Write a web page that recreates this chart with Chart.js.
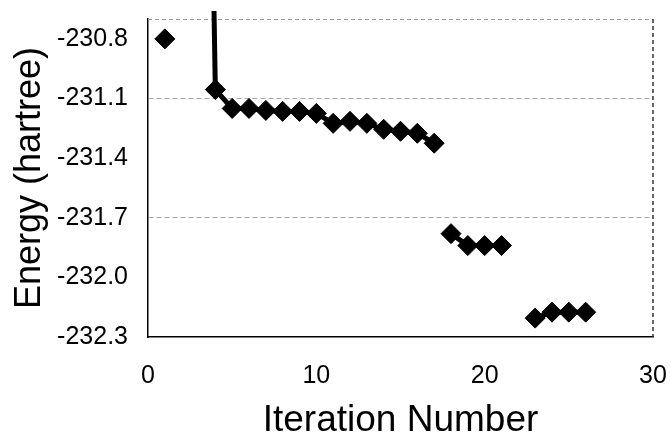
<!DOCTYPE html>
<html>
<head>
<meta charset="utf-8">
<script src="https://cdn.jsdelivr.net/npm/chart.js@4"></script>
<style>
  html, body { margin: 0; padding: 0; background: #fff; }
  #wrap { width: 671px; height: 443px; }
</style>
</head>
<body>
<div id="wrap"><canvas id="myChart" width="671" height="443"></canvas></div>
<script>
// iteration numbers and energies (hartree), one array pair per run segment
const iterFirst = [1];
const energyFirst = [-230.8];

const iterMain = [3, 4, 5, 6, 7, 8, 9, 10, 11, 12, 13, 14, 15, 16, 17];
const energyMain = [-226.0, -231.055, -231.15, -231.15, -231.16, -231.165, -231.165, -231.175,
                    -231.225, -231.215, -231.225, -231.255, -231.265, -231.275, -231.325];

const iterSecond = [18, 19, 20, 21];
const energySecond = [-231.78, -231.84, -231.84, -231.84];

const iterThird = [23, 24, 25, 26];
const energyThird = [-232.205, -232.175, -232.175, -232.175];

const yTicks = [-232.3, -232.0, -231.7, -231.4, -231.1, -230.8];
const xTicks = [0, 10, 20, 30];
const gridValues = [-231.1, -231.7];

function toPoints(xs, ys) {
    return xs.map((x, i) => ({x: x, y: ys[i]}));
}

function series(xs, ys) {
    return {
        data: toPoints(xs, ys),
        borderColor: '#000',
        backgroundColor: '#000',
        borderWidth: 5,
        pointStyle: 'rectRot',
        pointRadius: 10,
        pointBorderWidth: 1,
        pointBackgroundColor: '#000',
        tension: 0,
        clip: {left: 0, top: 8, right: 0, bottom: 0}
    };
}

const frame = {
    id: 'frame',
    beforeDatasetsDraw(chart) {
        const a = chart.chartArea;
        const ctx = chart.ctx;
        ctx.save();
        ctx.lineWidth = 1;
        ctx.setLineDash([4, 3]);
        ctx.strokeStyle = '#999';
        ctx.beginPath();
        ctx.moveTo(a.left, a.top + 0.5);
        ctx.lineTo(a.right, a.top + 0.5);
        ctx.stroke();
        ctx.strokeStyle = '#333';
        ctx.lineWidth = 1.5;
        ctx.beginPath();
        ctx.moveTo(a.right, a.top);
        ctx.lineTo(a.right, a.bottom);
        ctx.stroke();
        ctx.restore();
    }
};

const data = {
    datasets: [
        series(iterFirst, energyFirst),
        series(iterMain, energyMain),
        series(iterSecond, energySecond),
        series(iterThird, energyThird)
    ]
};

const config = {
    type: 'line',
    data: data,
    plugins: [frame],
    options: {
        responsive: false,
        animation: false,
        layout: {padding: {top: 19, right: 18, left: 0, bottom: 0}},
        plugins: {legend: {display: false}, tooltip: {enabled: false}},
        scales: {
            x: {
                type: 'linear',
                min: 0,
                max: 30,
                afterBuildTicks: (scale) => { scale.ticks = xTicks.map(v => ({value: v})); },
                afterFit: (scale) => {
                    scale.height = 106;
                    scale.paddingLeft = 0;
                    scale.paddingRight = 0;
                },
                ticks: {
                    color: '#000',
                    padding: 24,
                    font: {family: 'Liberation Sans', size: 25}
                },
                grid: {display: false, drawTicks: false},
                border: {color: '#000', width: 1.5},
                title: {
                    display: true,
                    text: 'Iteration Number',
                    color: '#000',
                    font: {family: 'Liberation Sans', size: 37},
                    padding: {top: 10, bottom: 0}
                }
            },
            y: {
                type: 'linear',
                min: -232.3,
                max: -230.7,
                afterBuildTicks: (scale) => { scale.ticks = yTicks.map(v => ({value: v})); },
                afterFit: (scale) => {
                    scale.width = 148;
                    scale.paddingTop = 0;
                    scale.paddingBottom = 0;
                },
                ticks: {
                    color: '#000',
                    padding: 20,
                    font: {family: 'Liberation Sans', size: 25},
                    callback: (v) => Number(v).toFixed(1)
                },
                grid: {
                    drawTicks: false,
                    color: (c) => gridValues.some(g => Math.abs(g - c.tick.value) < 1e-6) ? '#aaa' : 'rgba(0,0,0,0)',
                    lineWidth: 1
                },
                border: {color: '#000', width: 1.5, dash: [5, 3]},
                title: {
                    display: true,
                    text: 'Energy (hartree)',
                    color: '#000',
                    font: {family: 'Liberation Sans', size: 36},
                    padding: {top: 8, bottom: 2}
                }
            }
        }
    }
};

const myChart = new Chart(
    document.getElementById('myChart'),
    config
);
</script>
</body>
</html>
